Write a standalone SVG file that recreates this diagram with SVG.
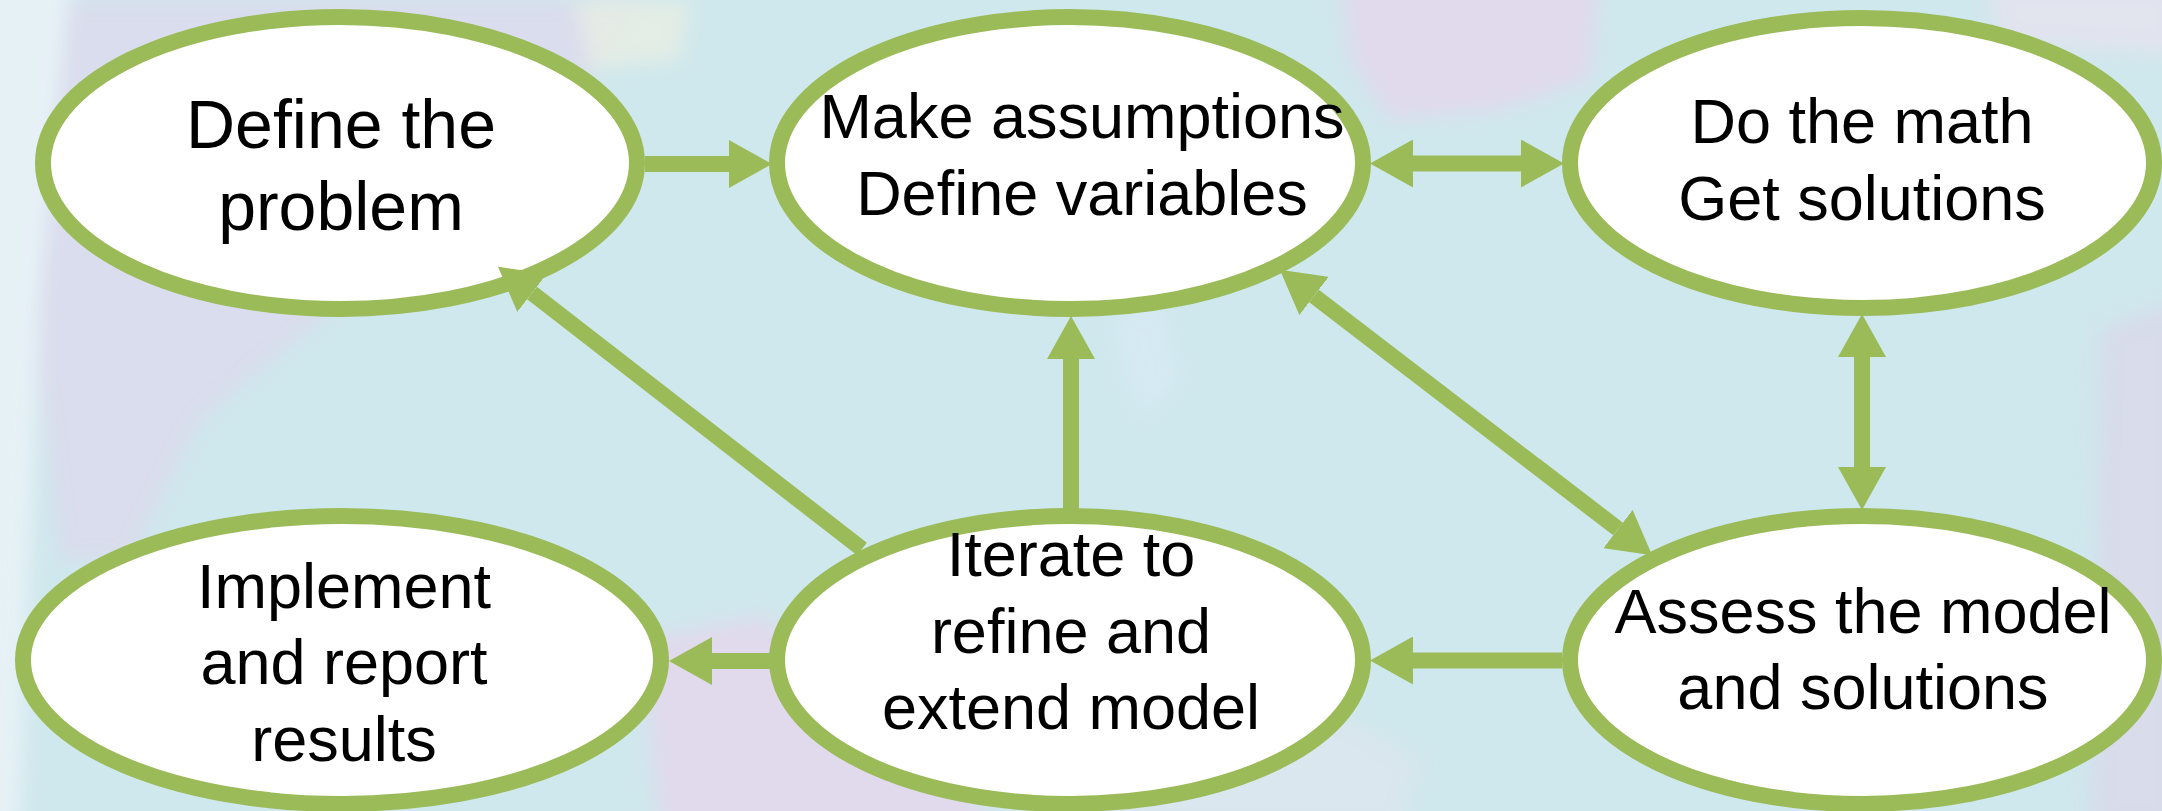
<svg xmlns="http://www.w3.org/2000/svg" width="2162" height="811" viewBox="0 0 2162 811">
<defs>
<style>
.node{fill:#FFFFFF;stroke:#9BBB59;stroke-width:16}
.lbl{font-family:"Liberation Sans",Arial,sans-serif;font-size:63px;fill:#000000;text-anchor:middle}
.conn{stroke:#9BBB59;stroke-width:16;fill:none}
</style>
<filter id="soft" x="-20%" y="-20%" width="140%" height="140%">
<feGaussianBlur stdDeviation="10"/>
</filter>
<marker id="head" markerUnits="userSpaceOnUse" markerWidth="44" markerHeight="48" refX="0" refY="24" orient="auto-start-reverse" viewBox="0 0 44 48">
<path d="M0,0 L43,24 L0,48 Z" fill="#9BBB59"/>
</marker>
</defs>
<g id="background">
<rect x="0" y="0" width="2162" height="811" fill="#CFE8ED"/>
<g filter="url(#soft)">
<polygon points="30,0 640,0 560,120 200,420 130,560 60,560 30,300" fill="#DCDAEC" opacity="0.8"/>
<polygon points="-20,-20 70,-20 40,300 20,830 -20,830" fill="#E6F1F6"/>
<polygon points="575,0 690,0 680,60 590,70" fill="#E8EEE4" opacity="0.8"/>
<polygon points="1340,-20 1600,-20 1590,80 1500,110 1390,120 1350,60" fill="#E2D8EC" opacity="0.9"/>
<polygon points="1985,-20 2180,-20 2180,55 2000,45" fill="#E6E2EE" opacity="0.8"/>
<polygon points="2100,330 2180,300 2180,830 2090,830" fill="#DAD8EA" opacity="0.8"/>
<polygon points="640,640 760,615 900,700 1000,830 660,830" fill="#E2D8EC" opacity="0.9"/>
<polygon points="1100,700 1300,690 1420,760 1400,830 1080,830" fill="#DCE6EE" opacity="0.8"/>
<polygon points="1110,320 1160,300 1180,380 1140,420" fill="#D8EAF4" opacity="0.8"/>
</g>
</g>
<g id="n1">
<ellipse class="node" cx="340" cy="163" rx="297" ry="146"/>
<text class="lbl" style="font-size:68px"><tspan x="341" y="148">Define the</tspan><tspan x="341" y="230">problem</tspan></text>
</g>
<g id="n2">
<ellipse class="node" cx="1070" cy="163" rx="293" ry="146"/>
<text class="lbl"><tspan x="1082" y="138">Make assumptions</tspan><tspan x="1082" y="215">Define variables</tspan></text>
</g>
<g id="n3">
<ellipse class="node" cx="1862" cy="163" rx="292" ry="145"/>
<text class="lbl"><tspan x="1862" y="143">Do the math</tspan><tspan x="1862" y="220">Get solutions</tspan></text>
</g>
<g id="n4">
<ellipse class="node" cx="342" cy="660" rx="319" ry="144"/>
<text class="lbl"><tspan x="344" y="608">Implement</tspan><tspan x="344" y="684">and report</tspan><tspan x="344" y="761">results</tspan></text>
</g>
<g id="n5">
<ellipse class="node" cx="1070" cy="660" rx="293" ry="144"/>
<text class="lbl"><tspan x="1071" y="576">Iterate to</tspan><tspan x="1071" y="653">refine and</tspan><tspan x="1071" y="729">extend model</tspan></text>
</g>
<g id="n6">
<ellipse class="node" cx="1862" cy="660" rx="292" ry="144"/>
<text class="lbl"><tspan x="1863" y="633">Assess the model</tspan><tspan x="1863" y="709">and solutions</tspan></text>
</g>
<g id="connectors">
<line class="conn" x1="645" y1="164" x2="729" y2="164" marker-end="url(#head)"/>
<line class="conn" x1="1413" y1="163.5" x2="1521" y2="163.5" marker-start="url(#head)" marker-end="url(#head)"/>
<line class="conn" x1="1862" y1="357" x2="1862" y2="467" marker-start="url(#head)" marker-end="url(#head)"/>
<line class="conn" x1="1071" y1="510" x2="1071" y2="359" marker-end="url(#head)"/>
<line class="conn" x1="1562" y1="660.5" x2="1413" y2="660.5" marker-end="url(#head)"/>
<line class="conn" x1="770" y1="661" x2="712" y2="661" marker-end="url(#head)"/>
<line class="conn" x1="862" y1="549" x2="532" y2="293" marker-end="url(#head)"/>
<line class="conn" x1="1314" y1="296" x2="1618" y2="529" marker-start="url(#head)" marker-end="url(#head)"/>
</g>
</svg>
